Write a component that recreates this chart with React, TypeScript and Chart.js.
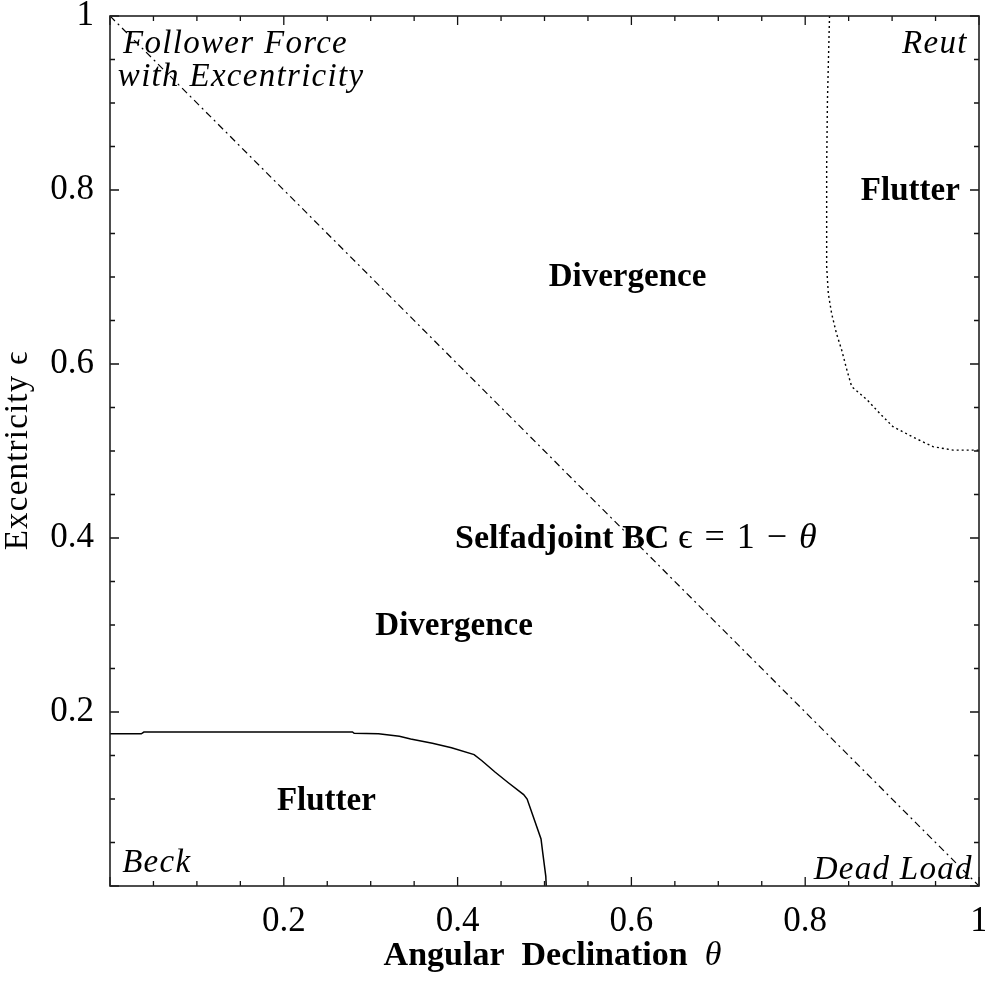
import React, { useEffect, useRef } from "react";
import { Chart, registerables } from "chart.js";

Chart.register(...registerables);

// ---- data (theta = angular declination, eps = excentricity) ----
const lowerFlutterTheta = [0, 0.036, 0.039, 0.279, 0.281, 0.309, 0.333, 0.346, 0.371, 0.393, 0.419, 0.428, 0.443, 0.458, 0.476, 0.48, 0.487, 0.496, 0.498, 0.5015, 0.502];
const lowerFlutterEps = [0.175, 0.175, 0.177, 0.177, 0.1755, 0.175, 0.172, 0.169, 0.164, 0.159, 0.151, 0.144, 0.131, 0.119, 0.105, 0.1, 0.08, 0.054, 0.038, 0.011, 0];

const upperFlutterTheta = [0.828, 0.8256, 0.8247, 0.8247, 0.8266, 0.8304, 0.836, 0.842, 0.848, 0.8535, 0.871, 0.886, 0.901, 0.924, 0.947, 0.97, 1.0];
const upperFlutterEps = [1.0, 0.903, 0.827, 0.712, 0.681, 0.658, 0.635, 0.616, 0.593, 0.574, 0.559, 0.543, 0.528, 0.516, 0.505, 0.501, 0.501];

const selfadjointTheta = [0, 1];
const selfadjointEps = [1, 0];

const majorTicks = [0, 0.2, 0.4, 0.6, 0.8, 1];
const minorTicks = [0.05, 0.1, 0.15, 0.25, 0.3, 0.35, 0.45, 0.5, 0.55, 0.65, 0.7, 0.75, 0.85, 0.9, 0.95];
const xTickLabels = ["", "0.2", "0.4", "0.6", "0.8", "1"];
const yTickLabels = ["", "0.2", "0.4", "0.6", "0.8", "1"];

// region labels, anchored in data coordinates
const labelTexts = ["Follower Force", "with Excentricity", "Reut", "Flutter", "Divergence", "Divergence", "Flutter", "Beck", "Dead Load"];
const labelTheta = [0.015, 0.009, 0.987, 0.921, 0.5955, 0.396, 0.249, 0.014, 0.993];
const labelEps = [0.957, 0.92, 0.957, 0.789, 0.69, 0.2885, 0.087, 0.016, 0.008];
const labelKinds = ["italic", "italic", "italic", "bold", "bold", "bold", "bold", "italic", "italic"];
const labelAligns = ["left", "left", "right", "center", "center", "center", "center", "left", "right"];

const selfadjointLabelTheta = 0.397;
const selfadjointLabelEps = 0.389;

const SERIF = "'Liberation Serif', 'Times New Roman', serif";

type Run = { text: string; font: string; spacing?: string };

function drawRuns(ctx: CanvasRenderingContext2D, runs: Run[], x: number, y: number, align: string) {
  let total = 0;
  const widths: number[] = [];
  for (const r of runs) {
    ctx.font = r.font;
    (ctx as any).letterSpacing = r.spacing || "0px";
    const w = ctx.measureText(r.text).width;
    widths.push(w);
    total += w;
  }
  let cx = x;
  if (align === "center") cx = x - total / 2;
  else if (align === "right") cx = x - total;
  ctx.textAlign = "left";
  ctx.textBaseline = "alphabetic";
  runs.forEach((r, i) => {
    ctx.font = r.font;
    (ctx as any).letterSpacing = r.spacing || "0px";
    ctx.fillText(r.text, cx, y);
    cx += widths[i];
  });
  (ctx as any).letterSpacing = "0px";
}

const decorPlugin = {
  id: "decor",
  afterDatasetsDraw(chart: any) {
    const { ctx, chartArea: a, scales } = chart;
    const x = scales.x;
    const y = scales.y;
    ctx.save();
    ctx.strokeStyle = "#111";
    ctx.fillStyle = "#000";
    ctx.lineWidth = 1.3;
    const tick = (v: number, len: number) => {
      const px = x.getPixelForValue(v);
      const py = y.getPixelForValue(v);
      ctx.beginPath();
      ctx.moveTo(px, a.bottom);
      ctx.lineTo(px, a.bottom - len);
      ctx.moveTo(px, a.top);
      ctx.lineTo(px, a.top + len);
      ctx.moveTo(a.left, py);
      ctx.lineTo(a.left + len, py);
      ctx.moveTo(a.right, py);
      ctx.lineTo(a.right - len, py);
      ctx.stroke();
    };
    majorTicks.forEach((v) => tick(v, 9));
    minorTicks.forEach((v) => tick(v, 5));
    ctx.lineWidth = 1.6;
    ctx.strokeStyle = "#222";
    ctx.strokeRect(a.left, a.top, a.right - a.left, a.bottom - a.top);

    // region labels
    labelTexts.forEach((t, i) => {
      const px = x.getPixelForValue(labelTheta[i]);
      const py = y.getPixelForValue(labelEps[i]);
      const run: Run =
        labelKinds[i] === "italic"
          ? { text: t, font: `italic 33px ${SERIF}`, spacing: "1.3px" }
          : { text: t, font: `bold 33px ${SERIF}` };
      drawRuns(ctx, [run], px, py, labelAligns[i]);
    });
    drawRuns(
      ctx,
      [
        { text: "Selfadjoint BC ", font: `bold 34px ${SERIF}` },
        { text: "\u03F5 = 1 \u2212 ", font: `36px ${SERIF}`, spacing: "1.5px" },
        { text: "\u03B8", font: `italic 36px ${SERIF}` },
      ],
      x.getPixelForValue(selfadjointLabelTheta),
      y.getPixelForValue(selfadjointLabelEps),
      "left"
    );

    // axis titles
    drawRuns(
      ctx,
      [
        { text: "Angular  Declination  ", font: `bold 34px ${SERIF}` },
        { text: "\u03B8", font: `italic 34px ${SERIF}` },
      ],
      (a.left + a.right) / 2 + 8,
      965,
      "center"
    );
    ctx.save();
    ctx.translate(27, (a.top + a.bottom) / 2);
    ctx.rotate(-Math.PI / 2);
    drawRuns(
      ctx,
      [
        { text: "Excentricity ", font: `33px ${SERIF}`, spacing: "1.2px" },
        { text: "\u03F5", font: `33px ${SERIF}` },
      ],
      0,
      0,
      "center"
    );
    ctx.restore();
    ctx.restore();
  },
};

const toPoints = (xs: number[], ys: number[]) => xs.map((v, i) => ({ x: v, y: ys[i] }));

export default function App() {
  const ref = useRef<HTMLCanvasElement | null>(null);
  useEffect(() => {
    document.body.style.margin = "0";
    const canvas = ref.current;
    if (!canvas) return;
    const fixPad = (s: any) => {
      s.paddingLeft = 0;
      s.paddingRight = 0;
      s.paddingTop = 0;
      s.paddingBottom = 0;
    };
    const chart = new Chart(canvas, {
      type: "scatter",
      data: {
        datasets: [
          {
            label: "Selfadjoint BC",
            data: toPoints(selfadjointTheta, selfadjointEps),
            showLine: true,
            borderColor: "#000",
            borderWidth: 1.2,
            borderDash: [7, 4, 2, 4],
            pointRadius: 0,
          },
          {
            label: "Flutter (Beck side)",
            data: toPoints(lowerFlutterTheta, lowerFlutterEps),
            showLine: true,
            borderColor: "#000",
            borderWidth: 1.5,
            pointRadius: 0,
          },
          {
            label: "Flutter (Reut side)",
            data: toPoints(upperFlutterTheta, upperFlutterEps),
            showLine: true,
            borderColor: "#000",
            borderWidth: 1.4,
            borderDash: [2, 3],
            pointRadius: 0,
          },
        ],
      },
      options: {
        animation: false,
        responsive: false,
        layout: { padding: { top: 16, right: 6, left: 0, bottom: 0 } },
        plugins: { legend: { display: false }, tooltip: { enabled: false } },
        scales: {
          x: {
            type: "linear",
            min: 0,
            max: 1,
            grid: { display: false, drawTicks: false },
            border: { display: false },
            afterBuildTicks: (s: any) => {
              s.ticks = majorTicks.map((v) => ({ value: v }));
            },
            afterFit: (s: any) => {
              s.height = 97;
              fixPad(s);
            },
            ticks: {
              autoSkip: false,
              maxRotation: 0,
              padding: 15,
              color: "#000",
              font: { family: SERIF, size: 35 },
              callback: (_v: any, i: number) => xTickLabels[i],
            },
          },
          y: {
            type: "linear",
            min: 0,
            max: 1,
            grid: { display: false, drawTicks: false },
            border: { display: false },
            afterBuildTicks: (s: any) => {
              s.ticks = majorTicks.map((v) => ({ value: v }));
            },
            afterFit: (s: any) => {
              s.width = 110;
              fixPad(s);
            },
            ticks: {
              autoSkip: false,
              padding: 16,
              color: "#000",
              font: { family: SERIF, size: 35 },
              callback: (_v: any, i: number) => yTickLabels[i],
            },
          },
        },
      },
      plugins: [decorPlugin],
    } as any);
    return () => chart.destroy();
  }, []);
  return (
    <div style={{ width: 985, height: 983 }}>
      <canvas ref={ref} width={985} height={983} style={{ display: "block" }} />
    </div>
  );
}
